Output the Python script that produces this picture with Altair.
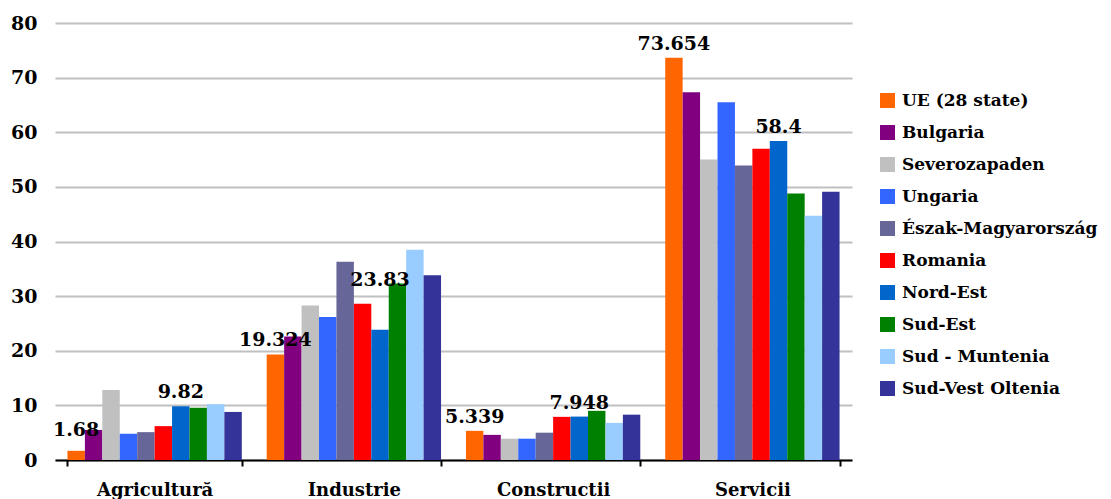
import altair as alt
import pandas as pd

categories = ["Agricultură", "Industrie", "Constructii", "Servicii"]
series = ["UE (28 state)", "Bulgaria", "Severozapaden", "Ungaria", "Észak-Magyarország",
          "Romania", "Nord-Est", "Sud-Est", "Sud - Muntenia", "Sud-Vest Oltenia"]
colors = ["#FF6600", "#800080", "#C0C0C0", "#3366FF", "#666699",
          "#FF0000", "#0066CC", "#008000", "#99CCFF", "#333399"]

ue = [1.68, 19.324, 5.339, 73.654]
bulgaria = [5.5, 22.6, 4.6, 67.3]
severozapaden = [12.8, 28.3, 3.9, 55.0]
ungaria = [4.8, 26.2, 3.9, 65.5]
eszak = [5.1, 36.3, 5.0, 53.9]
romania = [6.2, 28.6, 7.9, 57.0]
nord_est = [9.82, 23.83, 7.948, 58.4]
sud_est = [9.55, 32.3, 9.0, 48.8]
sud_muntenia = [10.2, 38.5, 6.8, 44.7]
sud_vest = [8.8, 33.8, 8.3, 49.1]

ue_labels = ["1.68", "19.324", "5.339", "73.654"]
nord_est_labels = ["9.82", "23.83", "7.948", "58.4"]

values = [ue, bulgaria, severozapaden, ungaria, eszak, romania, nord_est, sud_est, sud_muntenia, sud_vest]
labels = {"UE (28 state)": ue_labels, "Nord-Est": nord_est_labels}

rows = []
for s, vals in zip(series, values):
    for i, (c, v) in enumerate(zip(categories, vals)):
        lbl = labels[s][i] if s in labels else ""
        rows.append({"category": c, "series": s, "value": v, "lbl": lbl})
df = pd.DataFrame(rows)

FONT = "DejaVu Serif"

x = alt.X("category:N", sort=categories, title=None,
          scale=alt.Scale(paddingInner=0.125, paddingOuter=0.0625),
          axis=alt.Axis(labelAngle=0, domainColor="black", domainWidth=2,
                        tickColor="black", tickWidth=2, tickSize=6, tickBand="extent",
                        labelFont=FONT, labelFontSize=18, labelFontWeight="bold",
                        labelColor="black", labelPadding=15, grid=False))
y = alt.Y("value:Q", title=None,
          scale=alt.Scale(domain=[0, 80], nice=False),
          axis=alt.Axis(values=[0, 10, 20, 30, 40, 50, 60, 70, 80], domain=False, ticks=False,
                        gridColor="#C0C0C0", gridWidth=2, labelFont=FONT, labelFontSize=19,
                        labelFontWeight="bold", labelColor="black", labelPadding=18))
xoff = alt.XOffset("series:N", sort=series, scale=alt.Scale(paddingInner=0, paddingOuter=0))

bars = alt.Chart(df).mark_bar().encode(
    x=x, y=y, xOffset=xoff,
    color=alt.Color("series:N", sort=series,
                    scale=alt.Scale(domain=series, range=colors),
                    legend=alt.Legend(title=None, orient="none", legendX=824, legendY=69,
                                      symbolType="square", symbolSize=225, symbolStrokeWidth=0,
                                      labelFont=FONT, labelFontSize=17, labelFontWeight="bold",
                                      labelColor="black", rowPadding=14, labelOffset=6,
                                      labelLimit=0, padding=0)),
)

text_base = alt.Chart(df).encode(
    x=alt.X("category:N", sort=categories), y="value:Q",
    xOffset=alt.XOffset("series:N", sort=series), text="lbl:N")

text_style = dict(font=FONT, fontSize=19, fontWeight="bold", color="black", align="center")

t_main = text_base.mark_text(dy=-14, **text_style).transform_filter(
    "datum.lbl != '' && datum.lbl != '23.83' && datum.lbl != '1.68'")
t_high = text_base.mark_text(dy=-50, **text_style).transform_filter("datum.lbl == '23.83'")
t_low = text_base.mark_text(dy=-21, **text_style).transform_filter("datum.lbl == '1.68'")

chart = alt.layer(bars, t_main, t_high, t_low).properties(
    width=797, height=437,
    autosize=alt.AutoSizeParams(type="none"),
    padding={"left": 47, "top": 15, "right": 250, "bottom": 40},
).configure_view(stroke=None)

chart.save("out.html", embed_options={"renderer": "svg", "actions": False})
